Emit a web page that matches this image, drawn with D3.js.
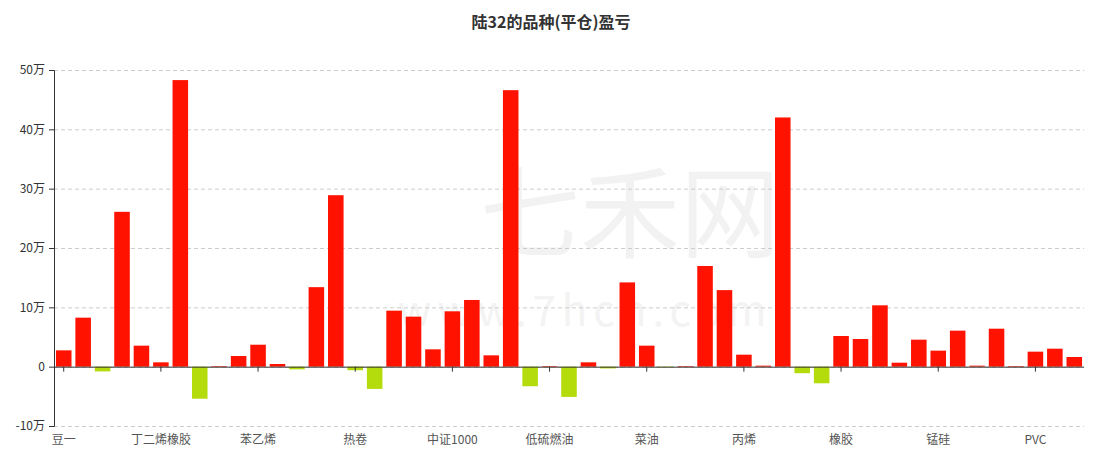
<!DOCTYPE html>
<html>
<head>
  <meta charset="utf-8">
  <title>陆32的品种(平仓)盈亏</title>
  <script src="https://d3js.org/d3.v7.min.js"></script>
  <style>
    body { margin: 0; background: #fff; }
    text { font-family: "Noto Sans CJK SC", "Noto Sans", sans-serif; }
    .gridlines line { stroke: #ccc; stroke-dasharray: 4 3; }
    .gridlines .domain { stroke: none; }
    .yaxis text, .xaxis text { font-size: 12px; }
  </style>
</head>
<body>
  <svg id="chart" width="1104" height="460"></svg>

  <script>
    // categories (only every 5th label is shown on the axis)
    const categories = [
      "豆一", "豆二", "豆粕", "豆油", "棕榈油",
      "丁二烯橡胶", "玉米", "淀粉", "鸡蛋", "生猪",
      "苯乙烯", "螺纹钢", "铁矿石", "焦炭", "焦煤",
      "热卷", "硅铁", "不锈钢", "沪铜", "沪铝",
      "中证1000", "沪锌", "沪镍", "沪锡", "沪铅",
      "低硫燃油", "黄金", "白银", "原油", "燃料油",
      "菜油", "沥青", "塑料", "聚丙烯", "甲醇",
      "丙烯", "乙二醇", "PTA", "短纤", "纯碱",
      "橡胶", "玻璃", "尿素", "菜粕", "棉花",
      "锰硅", "白糖", "苹果", "红枣", "花生",
      "PVC", "工业硅", "碳酸锂"
    ];

    // profit / loss in 万元
    const pnl = [
      2.75, 8.26, -0.8, 26.1, 3.54,
      0.73, 48.3, -5.4, 0.1, 1.8,
      3.7, 0.45, -0.45, 13.4, 28.9,
      -0.6, -3.75, 9.44, 8.43, 2.92,
      9.33, 11.24, 1.91, 46.6, -3.3,
      0.1, -5.1, 0.73, -0.3, 14.2,
      3.54, -0.08, 0.1, 16.97, 12.9,
      2.02, 0.17, 42.0, -1.1, -2.8,
      5.17, 4.66, 10.34, 0.67, 4.55,
      2.7, 6.07, 0.17, 6.4, 0.1,
      2.53, 3.03, 1.63
    ];

    const yTicks = [-10, 0, 10, 20, 30, 40, 50];

    const data = categories.map((c, i) => ({ name: c, value: pnl[i] }));

    let svg = d3.select("svg#chart");
    let margin = { top: 70, left: 54, bottom: 34, right: 20 };
    let chartWidth = svg.attr("width") - margin.left - margin.right;
    let chartHeight = svg.attr("height") - margin.top - margin.bottom;

    // title
    svg.append("text")
      .attr("x", 551)
      .attr("y", 28)
      .attr("text-anchor", "middle")
      .style("font-size", "16px")
      .style("font-weight", "bold")
      .style("fill", "#333")
      .text("陆32的品种(平仓)盈亏");

    // watermark
    svg.append("text")
      .attr("x", 630)
      .attr("y", 250)
      .attr("text-anchor", "middle")
      .style("font-size", "100px")
      .style("fill", "#f2f2f2")
      .text("七禾网");
    svg.append("text")
      .attr("x", 585)
      .attr("y", 326)
      .attr("text-anchor", "middle")
      .style("font-size", "42px")
      .style("letter-spacing", "6px")
      .style("fill", "#f3f3f3")
      .text("www.7hcn.com");

    const xScale = d3.scaleBand()
      .domain(categories)
      .range([0, chartWidth])
      .paddingInner(0.2)
      .paddingOuter(0.1);

    const yScale = d3.scaleLinear()
      .domain([-10, 50])
      .range([chartHeight, 0]);

    let chartArea = svg.append("g")
      .attr("transform", `translate(${margin.left}, ${margin.top})`);

    // horizontal gridlines
    let grid = d3.axisLeft(yScale)
      .tickValues(yTicks)
      .tickSize(-chartWidth)
      .tickFormat("");
    chartArea.append("g")
      .attr("class", "gridlines")
      .call(grid);

    // bars
    chartArea.selectAll("rect.bar")
      .data(data)
      .join("rect")
      .attr("class", "bar")
      .attr("x", d => xScale(d.name))
      .attr("width", xScale.bandwidth())
      .attr("y", d => yScale(Math.max(0, d.value)))
      .attr("height", d => Math.max(0.6, Math.abs(yScale(d.value) - yScale(0))))
      .style("fill", d => d.value >= 0 ? "#ff1200" : "#b4dc0c");

    // y axis
    let yAxis = d3.axisLeft(yScale)
      .tickValues(yTicks)
      .tickSize(5)
      .tickPadding(4)
      .tickFormat(d => d === 0 ? "0" : d + "万");
    let yG = chartArea.append("g")
      .attr("class", "yaxis")
      .call(yAxis);
    yG.selectAll("line").attr("stroke", "#333");
    yG.select(".domain").attr("stroke", "#333");
    yG.selectAll("text").style("fill", "#333");

    // x axis sits on the zero line, labels at bottom
    const shown = categories.filter((c, i) => i % 5 === 0);
    let xAxis = d3.axisBottom(xScale)
      .tickValues(shown)
      .tickSize(5)
      .tickSizeOuter(0)
      .tickFormat("");
    let xG = chartArea.append("g")
      .attr("transform", `translate(0, ${yScale(0)})`)
      .call(xAxis);
    xG.select(".domain").attr("stroke", "#333").attr("d", `M0,0.5H${chartWidth}`);
    xG.selectAll("line").attr("stroke", "#333");

    chartArea.append("g")
      .attr("class", "xaxis")
      .selectAll("text")
      .data(shown)
      .join("text")
      .attr("x", d => xScale(d) + xScale.bandwidth() / 2)
      .attr("y", chartHeight + 18)
      .attr("text-anchor", "middle")
      .style("fill", "#555")
      .text(d => d);
  </script>
</body>
</html>
